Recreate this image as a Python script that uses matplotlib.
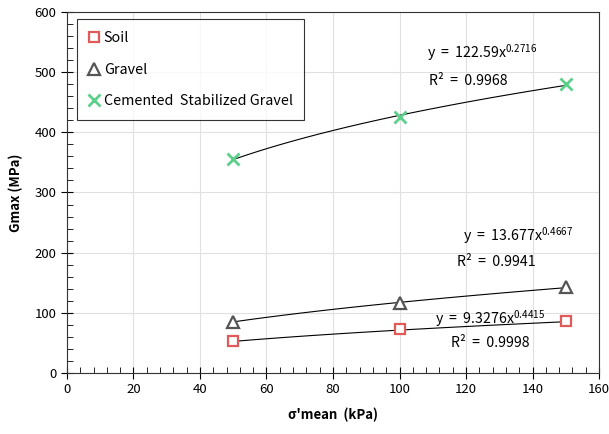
import matplotlib
matplotlib.use('Agg')
import matplotlib.pyplot as plt
from matplotlib.ticker import MultipleLocator
import numpy as np

plt.rcParams['font.family'] = ['Noto Sans CJK KR', 'DejaVu Sans']
plt.rcParams['mathtext.fontset'] = 'custom'
plt.rcParams['mathtext.rm'] = 'Noto Sans CJK KR'
plt.rcParams['mathtext.it'] = 'Noto Sans CJK KR'
plt.rcParams['mathtext.default'] = 'regular'

stress = [50, 100, 150]
soil = [53, 73, 86]
gravel = [85, 116, 143]
cemented = [356, 425, 481]

# trendline coefficients y = a * x^b (as shown on chart)
soil_fit = (9.3276, 0.4415)
gravel_fit = (13.677, 0.4667)
cemented_fit = (122.59, 0.2716)

fig = plt.figure(figsize=(6.09, 4.34), dpi=100)
ax = fig.add_axes([0.110, 0.1406, 0.8736, 0.8318])

xs = np.linspace(50, 150, 100)
for a, b in [soil_fit, gravel_fit, cemented_fit]:
    ax.plot(xs, a * xs ** b, color='black', lw=0.8, zorder=2)

ax.plot(stress, soil, ls='none', marker='s', ms=7.5, mfc='white', mec='#e05a5a',
        mew=1.6, label='Soil', zorder=3)
ax.plot(stress, gravel, ls='none', marker='^', ms=8.5, mfc='white', mec='#555555',
        mew=1.6, label='Gravel', zorder=3)
ax.plot(stress, cemented, ls='none', marker='x', ms=8.5, mec='#5ccf8a',
        mew=2.0, label='Cemented  Stabilized Gravel', zorder=3)

fs = 9.5
afs = 10.2
def eq(a, b):
    return 'y  =  %sx$^{%s}$' % (a, b)

ax.text(124.8, 533, eq('122.59', '0.2716'), ha='center', va='center', fontsize=afs)
ax.text(120.6, 485, 'R²  =  0.9968', ha='center', va='center', fontsize=afs)
ax.text(135.6, 228, eq('13.677', '0.4667'), ha='center', va='center', fontsize=afs)
ax.text(129.0, 184, 'R²  =  0.9941', ha='center', va='center', fontsize=afs)
ax.text(127.2, 91, eq('9.3276', '0.4415'), ha='center', va='center', fontsize=afs)
ax.text(127.2, 50, 'R²  =  0.9998', ha='center', va='center', fontsize=afs)

ax.set_xlim(0, 160)
ax.set_ylim(0, 600)
ax.xaxis.set_major_locator(MultipleLocator(20))
ax.xaxis.set_minor_locator(MultipleLocator(4))
ax.yaxis.set_major_locator(MultipleLocator(100))
ax.yaxis.set_minor_locator(MultipleLocator(20))
ax.tick_params(which='major', direction='inout', length=8, width=0.8, labelsize=fs)
ax.tick_params(which='minor', direction='in', length=4, width=0.6)
ax.grid(True, which='major', color='#e0e0e0', lw=0.8)
ax.set_axisbelow(True)
for s in ax.spines.values():
    s.set_linewidth(0.8)
    s.set_color('#333333')

ax.set_xlabel("σ'mean  (kPa)", fontsize=fs, fontweight='bold', labelpad=8)
ax.set_ylabel('Gmax (MPa)', fontsize=fs, fontweight='bold', labelpad=8)

leg = ax.legend(loc='upper left', bbox_to_anchor=(0.018, 0.98), fontsize=10.3,
                frameon=True, fancybox=False, edgecolor='black', labelspacing=1.25,
                handlelength=0.8, handletextpad=0.3, borderpad=0.8, borderaxespad=0)
leg.get_frame().set_linewidth(0.8)

plt.savefig('out.png', dpi=100)
